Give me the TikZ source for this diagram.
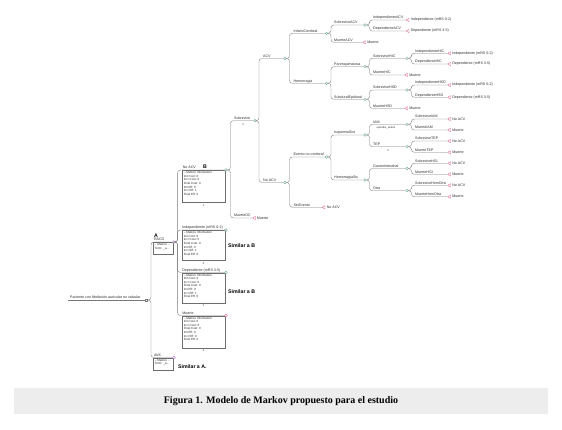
\documentclass[tikz,border=0pt]{standalone}
\usepackage{fontspec}
\setmainfont{Liberation Sans}
\newfontfamily\capfont{Liberation Serif}
\usetikzlibrary{shapes.geometric}
\definecolor{edgegray}{RGB}{120,120,120}
\definecolor{boxgray}{RGB}{110,110,110}
\definecolor{chgreen}{RGB}{100,165,130}
\definecolor{termpink}{RGB}{225,100,130}
\definecolor{mkpurple}{RGB}{180,110,200}
\definecolor{capgray}{RGB}{237,237,237}
\definecolor{txtc}{RGB}{45,45,45}
\newcommand{\mkinfo}[6]{-- Markov Information\\Init Cost: #1\\Incr Cost: #2\\Final Cost: #3\\Init Eff: #4\\Incr Eff: #5\\Final Eff: #6}
\begin{document}
\begin{tikzpicture}[x=1pt,y=-1pt,
  edge/.style={draw=edgegray,line width=0.35pt,rounded corners=2.8pt},
  chance/.style={circle,draw=chgreen,fill=white,inner sep=0pt,minimum size=2.6pt,line width=0.35pt},
  endnode/.style={regular polygon,regular polygon sides=3,shape border rotate=90,draw=termpink,fill=white,inner sep=0pt,minimum size=3.8pt,line width=0.35pt},
  endcirc/.style={circle,draw=termpink,fill=white,inner sep=0pt,minimum size=2.6pt,line width=0.35pt},
  mkv/.style={circle,draw=mkpurple,fill=white,inner sep=0pt,minimum size=2.8pt,line width=0.4pt},
  dec/.style={rectangle,draw=edgegray,fill=white,inner sep=0pt,minimum size=2.6pt,line width=0.35pt},
  lbl/.style={font=\fontsize{3.6}{4}\selectfont,text=txtc,inner sep=0pt,anchor=base west},
  tlbl/.style={font=\fontsize{3.6}{4}\selectfont,text=txtc,inner sep=0pt,anchor=west},
  sml/.style={font=\fontsize{2.6}{3}\selectfont,text=txtc,inner sep=0pt},
  mbox/.style={draw=boxgray,line width=0.35pt,anchor=north west,inner sep=1.3pt,font=\fontsize{3}{3.6}\selectfont,text=txtc},
  big/.style={font=\bfseries\fontsize{5.2}{6}\selectfont,text=black,inner sep=0pt},
]
\useasboundingbox (0,0) rectangle (562,429);
\fill[white] (0,0) rectangle (562,429);

% caption
\node[fill=capgray,minimum width=534pt,minimum height=26pt,inner sep=0pt,font=\capfont\bfseries\fontsize{10}{12}\selectfont] (cap) at (281,401) {Figura 1. Modelo de Markov propuesto para el estudio};

% root
\coordinate (rootstart) at (68,300);
\node[dec] (root) at (146,300) {};
\draw[edge] (rootstart) -- (root.west);
\node[lbl] at (70,298.6) {Paciente con fibrilación auricular no valvular};

% Markov nodes
\node[mbox] (racobox) at (153.3,242) {\parbox[c][8.9pt][t]{16.8pt}{-- Markov ...\\Term: \_a...}};
\node[mkv] (raco) at (174,242) {};
\node[lbl] at (153.8,240.6) {RACO};
\node[big] (lA) at (156,235.6) {A};
\node[mbox] (avkbox) at (153.3,357.5) {\parbox[c][9.4pt][t]{16.8pt}{-- Markov ...\\Term: \_a...}};
\node[mkv] (avk) at (174,357.5) {};
\node[lbl] at (153.8,356.1) {AVK};
\draw[edge] (root.east) -- ++(3.5,0) |- (raco.west);
\draw[edge] (root.east) -- ++(3.5,0) |- (avk.west);
\node[big,anchor=west] (simA) at (178,366.8) {Similar a A.};

% Markov states
\node[mbox] (b1) at (182.3,170) {\parbox[c][29.7pt][t]{40pt}{\mkinfo{0}{0}{0}{0}{1}{0}}};
\node[chance] (s1) at (226,170) {};
\node[lbl] at (182.6,168.6) {No ACV};
\node[big] (lB) at (205,166.6) {B};
\node[sml] at (203.5,205.4) {1};

\node[mbox] (b2) at (182.3,230) {\parbox[c][27.4pt][t]{40pt}{\mkinfo{0}{0}{0}{0}{1}{0}}};
\node[chance] (s2) at (226,230) {};
\node[lbl] at (182.1,228.6) {Independiente (mRS 0-2)};
\node[sml] at (203.5,263.4) {0};
\node[big,anchor=west] (simB1) at (228,245.6) {Similar a B};

\node[mbox] (b3) at (182.3,272.5) {\parbox[c][27.4pt][t]{40pt}{\mkinfo{0}{0}{0}{0}{1}{0}}};
\node[chance] (s3) at (226,272.5) {};
\node[lbl] at (182.1,271.1) {Dependiente (mRS 3-5)};
\node[sml] at (203.5,306) {0};
\node[big,anchor=west] (simB2) at (228,291.6) {Similar a B};

\node[mbox] (b4) at (182.3,315.5) {\parbox[c][29.7pt][t]{40pt}{\mkinfo{0}{0}{0}{0}{0}{0}}};
\node[endcirc] (s4) at (226,315.5) {};
\node[lbl] at (182.1,314.1) {Muerte};
\node[sml] at (203.5,350.6) {0};

\draw[edge] (raco.east) -- ++(2,0) |- (s1.west);
\draw[edge] (raco.east) -- ++(2,0) |- (s2.west);
\draw[edge] (raco.east) -- ++(2,0) |- (s3.west);
\draw[edge] (raco.east) -- ++(2,0) |- (s4.west);

% level 3
\node[chance] (sob) at (255,120.7) {};
\node[lbl] at (234,119.4) {Sobrevive};
\node[sml] at (243,125) {\#};
\node[endnode] (moc) at (254.5,218) {};
\node[lbl] at (234,216.7) {MuerteOC};
\node[tlbl] at ([xshift=1pt]moc.east) {Muerte};
\draw[edge] (s1.east) -- ++(3,0) |- (sob.west);
\draw[edge] (s1.east) -- ++(3,0) |- (moc.west);

% level 4
\node[chance] (acv) at (285,58.5) {};
\node[lbl] at (263,57.2) {ACV};
\node[chance] (noacv) at (285,182.5) {};
\node[lbl] at (263,181.2) {No ACV};
\draw[edge] (sob.east) -- ++(2.5,0) |- (acv.west);
\draw[edge] (sob.east) -- ++(2.5,0) |- (noacv.west);

% level 5
\node[chance] (infc) at (326.5,33.3) {};
\node[lbl] at (293.3,32) {InfartoCerebral};
\node[chance] (hem) at (326.5,83.3) {};
\node[lbl] at (293.3,82) {Hemorragia};
\draw[edge] (acv.east) -- ++(3,0) |- (infc.west);
\draw[edge] (acv.east) -- ++(3,0) |- (hem.west);
\node[chance] (enc) at (326.5,157) {};
\node[lbl] at (293.3,155.7) {Evento no cerebral};
\node[endnode] (sinev) at (324,207.3) {};
\node[lbl] at (293.3,206) {SinEvento};
\node[tlbl] at ([xshift=1.5pt]sinev.east) {No ACV};
\draw[edge] (noacv.east) -- ++(3,0) |- (enc.west);
\draw[edge] (noacv.east) -- ++(3,0) |- (sinev.west);

% level 6
\node[chance] (sobacv) at (365,25) {};
\node[lbl] at (334,23.7) {SobreviveACV};
\node[endnode] (muacv) at (364.5,42.3) {};
\node[lbl] at (334,41) {MuerteACV};
\node[tlbl] at ([xshift=1.5pt]muacv.east) {Muerte};
\draw[edge] (infc.east) -- ++(3,0) |- (sobacv.west);
\draw[edge] (infc.east) -- ++(3,0) |- (muacv.west);
\node[chance] (paren) at (365,66.7) {};
\node[lbl] at (334,65.4) {Parenquimatosa};
\node[chance] (subd) at (365,99.3) {};
\node[lbl] at (334,98) {SubduralEpidural};
\draw[edge] (hem.east) -- ++(3,0) |- (paren.west);
\draw[edge] (hem.east) -- ++(3,0) |- (subd.west);
\node[chance] (isq) at (365,135) {};
\node[lbl] at (334,133.7) {IsquemiaSist};
\node[chance] (hems) at (365,180) {};
\node[lbl] at (334,178.7) {HemorragiaSis};
\draw[edge] (enc.east) -- ++(3,0) |- (isq.west);
\draw[edge] (enc.east) -- ++(3,0) |- (hems.west);

% level 7
\node[endnode] (indacv) at (408,20) {};
\node[lbl] at (373,18.7) {IndependienteACV};
\node[tlbl] at ([xshift=1.5pt]indacv.east) {Independiente (mRS 0-2)};
\node[endnode] (depacv) at (408,31) {};
\node[lbl] at (373,29.7) {DependienteACV};
\node[tlbl] at ([xshift=1.5pt]depacv.east) {Dependiente (mRS 3-5)};
\draw[edge] (sobacv.east) -- ++(3,0) |- (indacv.west);
\draw[edge] (sobacv.east) -- ++(3,0) |- (depacv.west);

\node[chance] (sobhic) at (407,58.3) {};
\node[lbl] at (373,57) {SobreviveHIC};
\node[endnode] (muhic) at (406.5,75) {};
\node[lbl] at (373,73.7) {MuerteHIC};
\node[tlbl] at ([xshift=1.5pt]muhic.east) {Muerte};
\draw[edge] (paren.east) -- ++(3,0) |- (sobhic.west);
\draw[edge] (paren.east) -- ++(3,0) |- (muhic.west);

\node[chance] (sobhsd) at (407,90) {};
\node[lbl] at (373,88.7) {SobreviveHSD};
\node[endnode] (muhsd) at (406.5,108.3) {};
\node[lbl] at (373,107) {MuerteHSD};
\node[tlbl] at ([xshift=1.5pt]muhsd.east) {Muerte};
\draw[edge] (subd.east) -- ++(3,0) |- (sobhsd.west);
\draw[edge] (subd.east) -- ++(3,0) |- (muhsd.west);

\node[chance] (iam) at (407,124.3) {};
\node[lbl] at (373,123) {IAM};
\node[sml,anchor=west] at (376.5,128) {episodio\_sistem};
\node[chance] (tep) at (407,146.7) {};
\node[lbl] at (373,145.4) {TEP};
\node[sml] at (388,150.6) {\#};
\draw[edge] (isq.east) -- ++(3,0) |- (iam.west);
\draw[edge] (isq.east) -- ++(3,0) |- (tep.west);

\node[chance] (gi) at (407,168.5) {};
\node[lbl] at (373,167.2) {GastroIntestinal};
\node[chance] (otra) at (407,190.7) {};
\node[lbl] at (373,189.4) {Otra};
\draw[edge] (hems.east) -- ++(3,0) |- (gi.west);
\draw[edge] (hems.east) -- ++(3,0) |- (otra.west);

% level 8
\node[endnode] (indhic) at (449.5,53.3) {};
\node[lbl] at (415,52) {IndependienteHIC};
\node[tlbl] at ([xshift=1.5pt]indhic.east) {Independiente (mRS 0-2)};
\node[endnode] (dephic) at (449.5,64) {};
\node[lbl] at (415,62.7) {DependienteHIC};
\node[tlbl] at ([xshift=1.5pt]dephic.east) {Dependiente (mRS 3-5)};
\draw[edge] (sobhic.east) -- ++(3,0) |- (indhic.west);
\draw[edge] (sobhic.east) -- ++(3,0) |- (dephic.west);

\node[endnode] (indhsd) at (449.5,85) {};
\node[lbl] at (415,83.7) {IndependienteHSD};
\node[tlbl] at ([xshift=1.5pt]indhsd.east) {Independiente (mRS 0-2)};
\node[endnode] (dephsd) at (449.5,97.3) {};
\node[lbl] at (415,96) {DependienteHSD};
\node[tlbl] at ([xshift=1.5pt]dephsd.east) {Dependiente (mRS 3-5)};
\draw[edge] (sobhsd.east) -- ++(3,0) |- (indhsd.west);
\draw[edge] (sobhsd.east) -- ++(3,0) |- (dephsd.west);

\node[endnode] (sobiam) at (449.5,119) {};
\node[lbl] at (415,117.7) {SobreviveIAM};
\node[tlbl] at ([xshift=1.5pt]sobiam.east) {No ACV};
\node[endnode] (muiam) at (449.5,130) {};
\node[lbl] at (415,128.7) {MuerteIAM};
\node[tlbl] at ([xshift=1.5pt]muiam.east) {Muerte};
\draw[edge] (iam.east) -- ++(3,0) |- (sobiam.west);
\draw[edge] (iam.east) -- ++(3,0) |- (muiam.west);

\node[endnode] (sobtep) at (449.5,141) {};
\node[lbl] at (415,139.7) {SobreviveTEP};
\node[tlbl] at ([xshift=1.5pt]sobtep.east) {No ACV};
\node[endnode] (mutep) at (449.5,152.3) {};
\node[lbl] at (415,151) {MuerteTEP};
\node[tlbl] at ([xshift=1.5pt]mutep.east) {Muerte};
\draw[edge] (tep.east) -- ++(3,0) |- (sobtep.west);
\draw[edge] (tep.east) -- ++(3,0) |- (mutep.west);

\node[endnode] (sobhgi) at (449.5,163.3) {};
\node[lbl] at (415,162) {SobreviveHGI};
\node[tlbl] at ([xshift=1.5pt]sobhgi.east) {No ACV};
\node[endnode] (muhgi) at (449.5,174.3) {};
\node[lbl] at (415,173) {MuerteHGI};
\node[tlbl] at ([xshift=1.5pt]muhgi.east) {Muerte};
\draw[edge] (gi.east) -- ++(3,0) |- (sobhgi.west);
\draw[edge] (gi.east) -- ++(3,0) |- (muhgi.west);

\node[endnode] (sobho) at (449.5,185.3) {};
\node[lbl] at (415,184) {SobreviveHemOtra};
\node[tlbl] at ([xshift=1.5pt]sobho.east) {No ACV};
\node[endnode] (muho) at (449.5,196.7) {};
\node[lbl] at (415,195.4) {MuerteHemOtra};
\node[tlbl] at ([xshift=1.5pt]muho.east) {Muerte};
\draw[edge] (otra.east) -- ++(3,0) |- (sobho.west);
\draw[edge] (otra.east) -- ++(3,0) |- (muho.west);
\end{tikzpicture}
\end{document}
